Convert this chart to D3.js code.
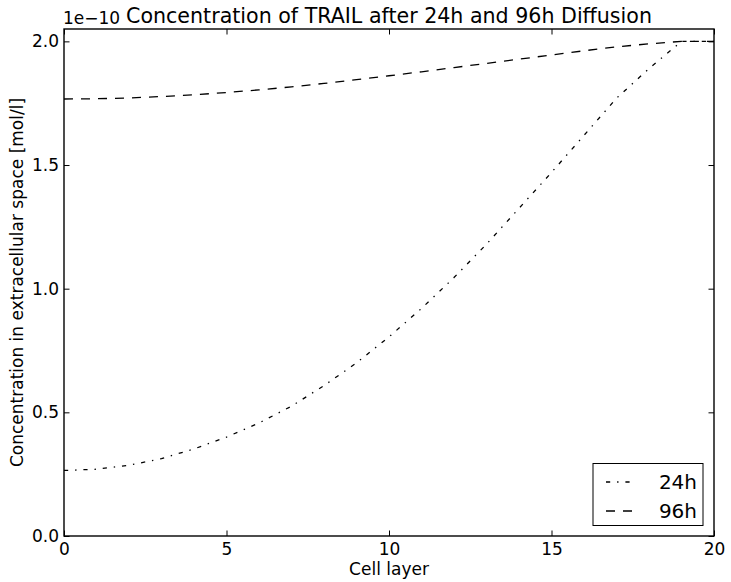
<!DOCTYPE html>
<html>
<head>
<meta charset="utf-8">
<script src="https://cdn.jsdelivr.net/npm/d3@7"></script>
<style>
  body { margin: 0; background: #fff; }
  text { font-family: "DejaVu Sans", sans-serif; fill: #000; }
</style>
</head>
<body>
<div id="chart"></div>
<script>
var svgWidth = 731;
var svgHeight = 582;

var margin = { top: 29, right: 17, bottom: 46, left: 64 };
var width = svgWidth - margin.left - margin.right;
var height = svgHeight - margin.top - margin.bottom;

// data (concentrations in units of 1e-10 mol/l)
var cellLayers = [0, 1, 2, 3, 4, 5, 6, 7, 8, 9, 10, 11, 12, 13, 14, 15, 16, 17, 18, 19, 20];
var conc24h = [0.265, 0.27, 0.286, 0.313, 0.352, 0.40, 0.457, 0.525, 0.608, 0.70, 0.805,
               0.92, 1.045, 1.18, 1.325, 1.47, 1.62, 1.77, 1.89, 2.0, 2.0];
var conc96h = [1.767, 1.768, 1.771, 1.777, 1.784, 1.793, 1.804, 1.816, 1.83, 1.845, 1.861,
               1.877, 1.894, 1.911, 1.928, 1.945, 1.962, 1.978, 1.99, 2.0, 2.0];
var xTicks = [0, 5, 10, 15, 20];
var yTicks = [0, 0.5, 1.0, 1.5, 2.0];
var seriesNames = ["24h", "96h"];

var svg = d3.select("#chart")
  .append("svg")
  .attr("width", svgWidth)
  .attr("height", svgHeight);

var chartGroup = svg.append("g")
  .attr("transform", `translate(${margin.left}, ${margin.top})`);

var xScale = d3.scaleLinear().domain([0, 20]).range([0, width]);
var yScale = d3.scaleLinear().domain([0, 2.05]).range([height, 0]);

// axes, ticks pointing inward like old matplotlib
function styleAxis(g) {
  g.select(".domain").remove();
  g.selectAll(".tick line").attr("stroke", "#000").attr("stroke-width", 1);
  g.selectAll(".tick text").style("font-size", "17px").attr("fill", "#000");
}

chartGroup.append("g")
  .attr("transform", `translate(0, ${height})`)
  .call(d3.axisBottom(xScale).tickValues(xTicks).tickFormat(d3.format("d"))
    .tickSizeInner(-5.5).tickPadding(7))
  .call(styleAxis);

chartGroup.append("g")
  .call(d3.axisTop(xScale).tickValues(xTicks).tickFormat("").tickSizeInner(-5.5))
  .call(styleAxis);

chartGroup.append("g")
  .call(d3.axisLeft(yScale).tickValues(yTicks).tickFormat(d3.format(".1f"))
    .tickSizeInner(-5.5).tickPadding(5))
  .call(styleAxis);

chartGroup.append("g")
  .attr("transform", `translate(${width}, 0)`)
  .call(d3.axisRight(yScale).tickValues(yTicks).tickFormat("").tickSizeInner(-5.5))
  .call(styleAxis);

// frame
chartGroup.append("rect")
  .attr("width", width)
  .attr("height", height)
  .attr("fill", "none")
  .attr("stroke", "#000")
  .attr("stroke-width", 1.4);

// lines
var line = d3.line()
  .x((d, i) => xScale(cellLayers[i]))
  .y(d => yScale(d));

var dash24 = "4.2,6.9,1.4,6.9";
var dash96 = "9,8";

chartGroup.append("path")
  .datum(conc24h)
  .attr("d", line)
  .attr("fill", "none")
  .attr("stroke", "#000")
  .attr("stroke-width", 1.3)
  .attr("stroke-dasharray", dash24);

chartGroup.append("path")
  .datum(conc96h)
  .attr("d", line)
  .attr("fill", "none")
  .attr("stroke", "#000")
  .attr("stroke-width", 1.3)
  .attr("stroke-dasharray", dash96);

// title, offset text, labels
svg.append("text")
  .attr("x", margin.left + width / 2)
  .attr("y", 23)
  .attr("text-anchor", "middle")
  .style("font-size", "20.6px")
  .text("Concentration of TRAIL after 24h and 96h Diffusion");

svg.append("text")
  .attr("x", margin.left - 1)
  .attr("y", 24)
  .style("font-size", "17px")
  .text("1e\u221210");

svg.append("text")
  .attr("x", margin.left + width / 2)
  .attr("y", 575)
  .attr("text-anchor", "middle")
  .style("font-size", "17px")
  .text("Cell layer");

svg.append("text")
  .attr("transform", `translate(23, ${margin.top + height / 2}) rotate(-90)`)
  .attr("text-anchor", "middle")
  .style("font-size", "17px")
  .text("Concentration in extracellular space [mol/l]");

// legend
var legend = svg.append("g");
legend.append("rect")
  .attr("x", 593)
  .attr("y", 463.5)
  .attr("width", 110)
  .attr("height", 62)
  .attr("fill", "#fff")
  .attr("stroke", "#000")
  .attr("stroke-width", 1);

[dash24, dash96].forEach(function(dash, i) {
  var cy = 482 + i * 29;
  legend.append("line")
    .attr("x1", 606).attr("x2", 632)
    .attr("y1", cy).attr("y2", cy)
    .attr("stroke", "#000")
    .attr("stroke-width", 1.3)
    .attr("stroke-dasharray", dash);
  legend.append("text")
    .attr("x", 697)
    .attr("y", cy + 7)
    .attr("text-anchor", "end")
    .style("font-size", "20px")
    .text(seriesNames[i]);
});
</script>
</body>
</html>
